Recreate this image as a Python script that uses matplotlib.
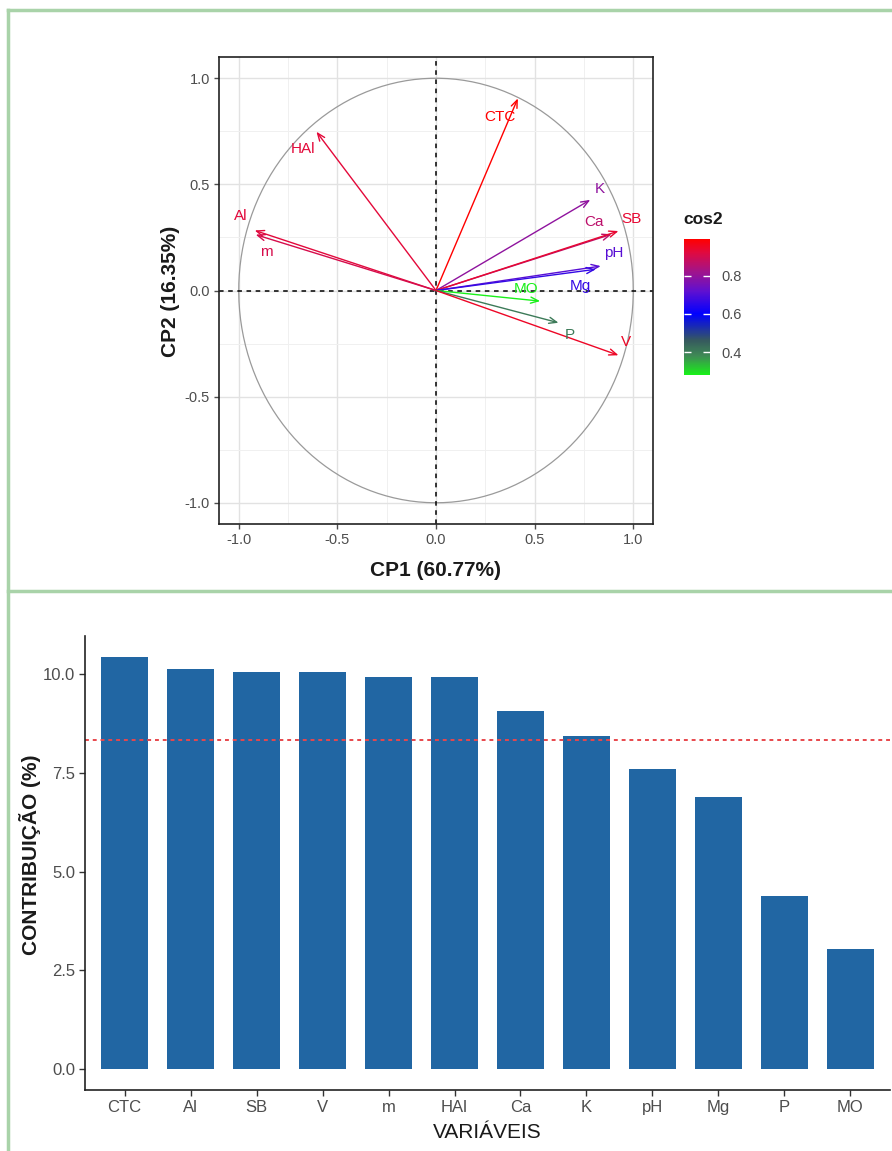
import numpy as np
import matplotlib
matplotlib.use("Agg")
import matplotlib.pyplot as plt
from matplotlib.colors import LinearSegmentedColormap, Normalize
from matplotlib.cm import ScalarMappable
from matplotlib.lines import Line2D

plt.rcParams["font.family"] = ["Liberation Sans", "DejaVu Sans"]
plt.rcParams["axes.unicode_minus"] = False

# variable loadings on the first two components
VARS = ["CTC", "HAl", "Al", "m", "K", "Ca", "SB", "pH", "Mg", "MO", "P", "V"]
CP1 = [0.415, -0.606, -0.919, -0.914, 0.782, 0.890, 0.925, 0.835, 0.810, 0.528, 0.621, 0.925]
CP2 = [0.905, 0.748, 0.283, 0.263, 0.427, 0.265, 0.280, 0.115, 0.100, -0.050, -0.152, -0.305]

# contributions (%)
CONTRIB_VARS = ["CTC", "Al", "SB", "V", "m", "HAl", "Ca", "K", "pH", "Mg", "P", "MO"]
CONTRIB = [10.44, 10.14, 10.06, 10.06, 9.94, 9.94, 9.08, 8.43, 7.61, 6.90, 4.39, 3.03]

# where each label sits relative to its arrow tip
LABEL_OFFSET = {
    "CTC": (-0.09, -0.087), "HAl": (-0.07, -0.083), "Al": (-0.07, 0.066),
    "m": (0.055, -0.083), "K": (0.05, 0.05), "Ca": (-0.088, 0.057),
    "SB": (0.068, 0.057), "pH": (0.065, 0.062), "Mg": (-0.079, -0.08),
    "MO": (-0.071, 0.058), "P": (0.059, -0.059), "V": (0.039, 0.061),
}

W, H = 892, 1151
fig = plt.figure(figsize=(W / 100, H / 100), dpi=100)


def fx(px):
    return px / W


def fy(py):
    return 1 - py / H


# ---- top: correlation circle ----
cos2 = np.array(CP1) ** 2 + np.array(CP2) ** 2
norm = Normalize(vmin=cos2.min(), vmax=cos2.max())
lo, hi = cos2.min(), cos2.max()


def pos(v):
    return (v - lo) / (hi - lo)


cmap = LinearSegmentedColormap.from_list("cos2", [
    (0.0, "#19f019"),
    (pos(0.38), "#3f8a55"),
    (pos(0.46), "#365a5e"),
    (pos(0.60), "#0000ff"),
    (pos(0.72), "#6010d0"),
    (pos(0.82), "#a0148c"),
    (pos(0.92), "#e00a40"),
    (1.0, "#ff0000"),
])

ax = fig.add_axes([fx(219), fy(524), fx(653 - 219), (524 - 57) / H])
ticks = [-1.0, -0.5, 0.0, 0.5, 1.0]
ax.set_xticks(ticks)
ax.set_yticks(ticks)
ax.set_xticks([-0.75, -0.25, 0.25, 0.75], minor=True)
ax.set_yticks([-0.75, -0.25, 0.25, 0.75], minor=True)
ax.set_xticklabels([f"{t:.1f}" for t in ticks])
ax.set_yticklabels([f"{t:.1f}" for t in ticks])
ax.grid(which="major", color="#e2e2e2", lw=1.0)
ax.grid(which="minor", color="#f0f0f0", lw=0.7)
ax.set_axisbelow(True)
ax.tick_params(which="major", length=3.5, width=1, color="#4d4d4d",
               labelsize=10.5, labelcolor="#4d4d4d", pad=3)
ax.tick_params(which="minor", length=0)
for s in ax.spines.values():
    s.set_color("#222222")
    s.set_linewidth(1.2)

theta = np.linspace(0, 2 * np.pi, 300)
ax.plot(np.cos(theta), np.sin(theta), color="#9a9a9a", lw=0.9, zorder=2)
ax.axhline(0, color="black", ls=(0, (3, 3)), lw=1.1, zorder=2)
ax.axvline(0, color="black", ls=(0, (3, 3)), lw=1.1, zorder=2)

for name, x, y, c in zip(VARS, CP1, CP2, cos2):
    col = cmap(norm(c))
    ax.annotate("", xy=(x, y), xytext=(0, 0),
                arrowprops=dict(arrowstyle="->,head_length=0.55,head_width=0.22",
                                color=col, lw=1.0, shrinkA=0, shrinkB=0), zorder=3)
    dx, dy = LABEL_OFFSET[name]
    ax.text(x + dx, y + dy, name, color=col, fontsize=11, ha="center", va="center", zorder=4)

ax.set_xlim(-1.1, 1.1)
ax.set_ylim(-1.1, 1.1)

fig.text(fx(436), fy(570), "CP1 (60.77%)", ha="center", va="center",
         fontsize=15, fontweight="bold", color="#1a1a1a")
fig.text(fx(170), fy(291), "CP2 (16.35%)", ha="center", va="center", rotation=90,
         fontsize=15, fontweight="bold", color="#1a1a1a")

cax = fig.add_axes([fx(684), fy(375), fx(26), 136 / H])
cb = fig.colorbar(ScalarMappable(norm=norm, cmap=cmap), cax=cax, ticks=[0.4, 0.6, 0.8])
cb.outline.set_visible(False)
cb.set_ticklabels(["0.4", "0.6", "0.8"])
cax.tick_params(left=True, right=True, labelleft=False, labelright=True,
                direction="in", length=5, width=1, color="white",
                labelsize=10.5, labelcolor="#4d4d4d", pad=8)
fig.text(fx(683), fy(220), "cos2", ha="left", va="center",
         fontsize=12.5, fontweight="bold", color="#1a1a1a")

# ---- bottom: contributions ----
ax2 = fig.add_axes([fx(85), fy(1090), fx(890 - 85), (1090 - 636) / H])
xpos = np.arange(len(CONTRIB_VARS))
ax2.bar(xpos, CONTRIB, width=0.7, color="#2166a3")
ax2.axhline(100 / len(CONTRIB), color="#e8474c", ls=(0, (2, 2)), lw=1.4)
ax2.set_xlim(-0.6, len(CONTRIB_VARS) - 0.4)
ax2.set_ylim(-0.53, 10.97)
ax2.set_xticks(xpos)
ax2.set_xticklabels(CONTRIB_VARS)
ax2.set_yticks([0, 2.5, 5, 7.5, 10])
ax2.set_yticklabels(["0.0", "2.5", "5.0", "7.5", "10.0"])
ax2.tick_params(length=4, width=1, color="#333333", labelsize=12,
                labelcolor="#4d4d4d", pad=3)
for side in ("top", "right"):
    ax2.spines[side].set_visible(False)
for side in ("left", "bottom"):
    ax2.spines[side].set_color("#222222")
    ax2.spines[side].set_linewidth(1.2)

fig.text(fx(30), fy(855), "CONTRIBUIÇÃO (%)", ha="center", va="center", rotation=90,
         fontsize=15, fontweight="bold", color="#1a1a1a")
fig.text(fx(487), fy(1132), "VARIÁVEIS", ha="center", va="center",
         fontsize=15, color="#1a1a1a")

# green frame lines around the two panels
green = "#a9d3a9"
fig.add_artist(Line2D([fx(8), 1], [fy(9.5), fy(9.5)], color=green, lw=2.5, transform=fig.transFigure))
fig.add_artist(Line2D([fx(8), 1], [fy(591), fy(591)], color=green, lw=2.5, transform=fig.transFigure))
fig.add_artist(Line2D([fx(8), fx(8)], [0, fy(9.5)], color=green, lw=2.5, transform=fig.transFigure))

fig.savefig("out.png", dpi=100)
